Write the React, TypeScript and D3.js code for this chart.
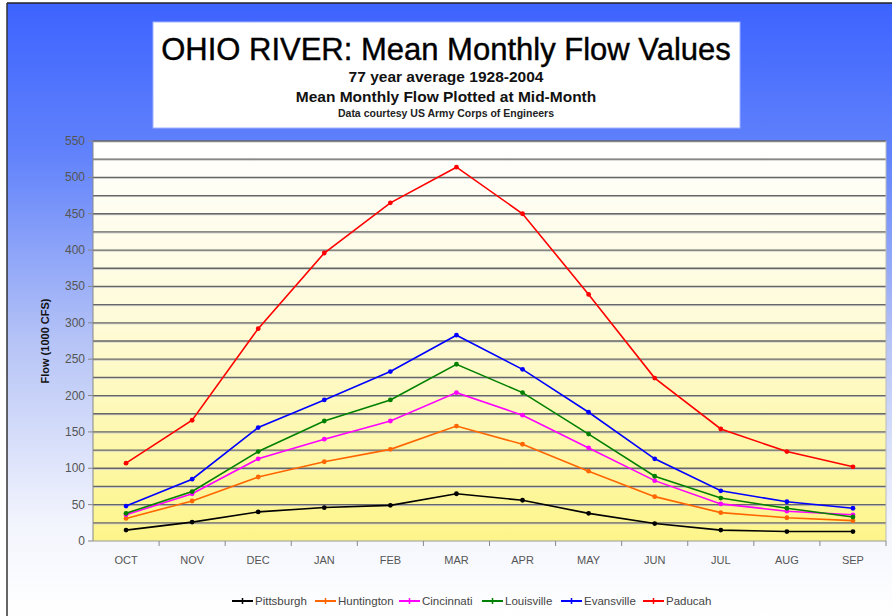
import React from "react";
import * as d3 from "d3";

// months, plotted at mid-month
const months = ["OCT", "NOV", "DEC", "JAN", "FEB", "MAR", "APR", "MAY", "JUN", "JUL", "AUG", "SEP"];

const stations = ["Pittsburgh", "Huntington", "Cincinnati", "Louisville", "Evansville", "Paducah"];
const colors = ["#000000", "#ff6600", "#ff00ff", "#008000", "#0000ff", "#ff0000"];

// flow, 1000 CFS
const pittsburgh = [15, 26, 40, 46, 49, 65, 56, 38, 24, 15, 13, 13];
const huntington = [31, 55, 88, 109, 126, 158, 133, 96, 61, 39, 32, 28];
const cincinnati = [36, 65, 113, 140, 165, 204, 173, 128, 83, 51, 41, 36];
const louisville = [38, 68, 123, 165, 194, 243, 204, 147, 89, 59, 45, 33];
const evansville = [48, 85, 156, 194, 233, 283, 236, 177, 113, 69, 54, 45];
const paducah = [107, 166, 292, 396, 465, 514, 450, 339, 224, 154, 123, 102];

const seriesValues = [pittsburgh, huntington, cincinnati, louisville, evansville, paducah];

const yTicks = d3.range(0, 551, 50);
const gridLines = d3.range(25, 551, 25);

export default function App() {
  const W = 892;
  const H = 616;
  const plot = { left: 93, right: 886, top: 141, bottom: 541 };

  const x = d3.scaleBand<string>().domain(months).range([plot.left, plot.right]);
  const y = d3.scaleLinear().domain([0, 550]).range([plot.bottom, plot.top]);

  const line = d3
    .line<number>()
    .x((_, i) => (x(months[i]) as number) + x.bandwidth() / 2)
    .y((d) => y(d));

  const font = "Arial, 'Liberation Sans', sans-serif";

  // legend layout
  const legendY = 601;
  const legendX = [232, 315, 399, 482, 561, 643];

  return (
    <svg
      width={W}
      height={H}
      style={{ position: "absolute", left: 0, top: 0, display: "block" }}
      fontFamily={font}
    >
      <defs>
        <linearGradient id="bg" x1="0" y1="0" x2="0" y2="1">
          <stop offset="0" stopColor="#3d63ff" />
          <stop offset="0.25" stopColor="#6283fb" />
          <stop offset="0.55" stopColor="#b5c3f6" />
          <stop offset="0.85" stopColor="#f3f5fd" />
          <stop offset="1" stopColor="#ffffff" />
        </linearGradient>
        <linearGradient id="plotbg" x1="0" y1="0" x2="0" y2="1">
          <stop offset="0" stopColor="#ffffff" />
          <stop offset="0.45" stopColor="#fefbd8" />
          <stop offset="1" stopColor="#fdf58a" />
        </linearGradient>
      </defs>

      <rect x={0} y={0} width={W} height={H} fill="#ffffff" />
      <rect x={7} y={3} width={W - 7} height={H - 3} fill="url(#bg)" />
      <line x1={7} y1={3} x2={W} y2={3} stroke="#222" strokeWidth={1.5} />
      <line x1={7} y1={3} x2={7} y2={H} stroke="#333" strokeWidth={1.5} />

      {/* title box */}
      <rect x={153} y={22} width={587} height={106} fill="#ffffff" stroke="#9fb2ff" strokeWidth={1} />
      <text x={446} y={60} textAnchor="middle" fontSize={31} fill="#000" stroke="#000" strokeWidth={0.4}>
        OHIO RIVER: Mean Monthly Flow Values
      </text>
      <text x={446} y={82} textAnchor="middle" fontSize={15.5} fontWeight="bold" fill="#111">
        77 year average 1928-2004
      </text>
      <text x={446} y={102} textAnchor="middle" fontSize={15.5} fontWeight="bold" fill="#111">
        Mean Monthly Flow Plotted at Mid-Month
      </text>
      <text x={446} y={117} textAnchor="middle" fontSize={10.5} fontWeight="bold" fill="#222">
        Data courtesy US Army Corps of Engineers
      </text>

      {/* plot area */}
      <rect
        x={plot.left}
        y={plot.top}
        width={plot.right - plot.left}
        height={plot.bottom - plot.top}
        fill="url(#plotbg)"
      />
      {gridLines.map((v) => (
        <g key={v}>
          <line x1={plot.left} x2={plot.right} y1={y(v) + 1} y2={y(v) + 1} stroke="#c8c8c8" strokeWidth={1} />
          <line x1={plot.left} x2={plot.right} y1={y(v)} y2={y(v)} stroke="#666" strokeWidth={1.3} />
        </g>
      ))}
      <line x1={plot.right} x2={plot.right} y1={plot.top} y2={plot.bottom} stroke="#bbbbbb" />
      <line x1={plot.left} x2={plot.right} y1={plot.bottom} y2={plot.bottom} stroke="#999" />

      {/* y axis */}
      <line x1={plot.left} x2={plot.left} y1={plot.top} y2={plot.bottom} stroke="#888" />
      {yTicks.map((v) => (
        <g key={v}>
          <line x1={plot.left - 5} x2={plot.left} y1={y(v)} y2={y(v)} stroke="#888" />
          <text x={plot.left - 8} y={y(v) + 4} textAnchor="end" fontSize={12} fill="#555">
            {v}
          </text>
        </g>
      ))}
      <text
        transform={`translate(49, ${(plot.top + plot.bottom) / 2}) rotate(-90)`}
        textAnchor="middle"
        fontSize={11}
        fontWeight="bold"
        fill="#111"
      >
        Flow (1000 CFS)
      </text>

      {/* x axis */}
      {months.map((m, i) => (
        <g key={m}>
          {i > 0 && (
            <line
              x1={x(m) as number}
              x2={x(m) as number}
              y1={plot.bottom}
              y2={plot.bottom + 5}
              stroke="#888"
            />
          )}
          <text
            x={(x(m) as number) + x.bandwidth() / 2}
            y={plot.bottom + 23}
            textAnchor="middle"
            fontSize={11}
            fill="#555"
          >
            {m}
          </text>
        </g>
      ))}
      <line x1={plot.right} x2={plot.right} y1={plot.bottom} y2={plot.bottom + 5} stroke="#888" />

      {/* series */}
      {seriesValues.map((vals, s) => (
        <g key={stations[s]}>
          <path d={line(vals) as string} fill="none" stroke={colors[s]} strokeWidth={1.6} />
          {vals.map((v, i) => (
            <circle
              key={i}
              cx={(x(months[i]) as number) + x.bandwidth() / 2}
              cy={y(v)}
              r={2.4}
              fill={colors[s]}
            />
          ))}
        </g>
      ))}

      {/* legend */}
      {stations.map((name, s) => (
        <g key={name} transform={`translate(${legendX[s]}, ${legendY})`}>
          <line x1={0} x2={21} y1={0} y2={0} stroke={colors[s]} strokeWidth={2} />
          <line x1={10.5} x2={10.5} y1={-3} y2={3} stroke={colors[s]} strokeWidth={1.5} />
          <text x={23} y={4} fontSize={11.5} fill="#444">
            {name}
          </text>
        </g>
      ))}
    </svg>
  );
}
